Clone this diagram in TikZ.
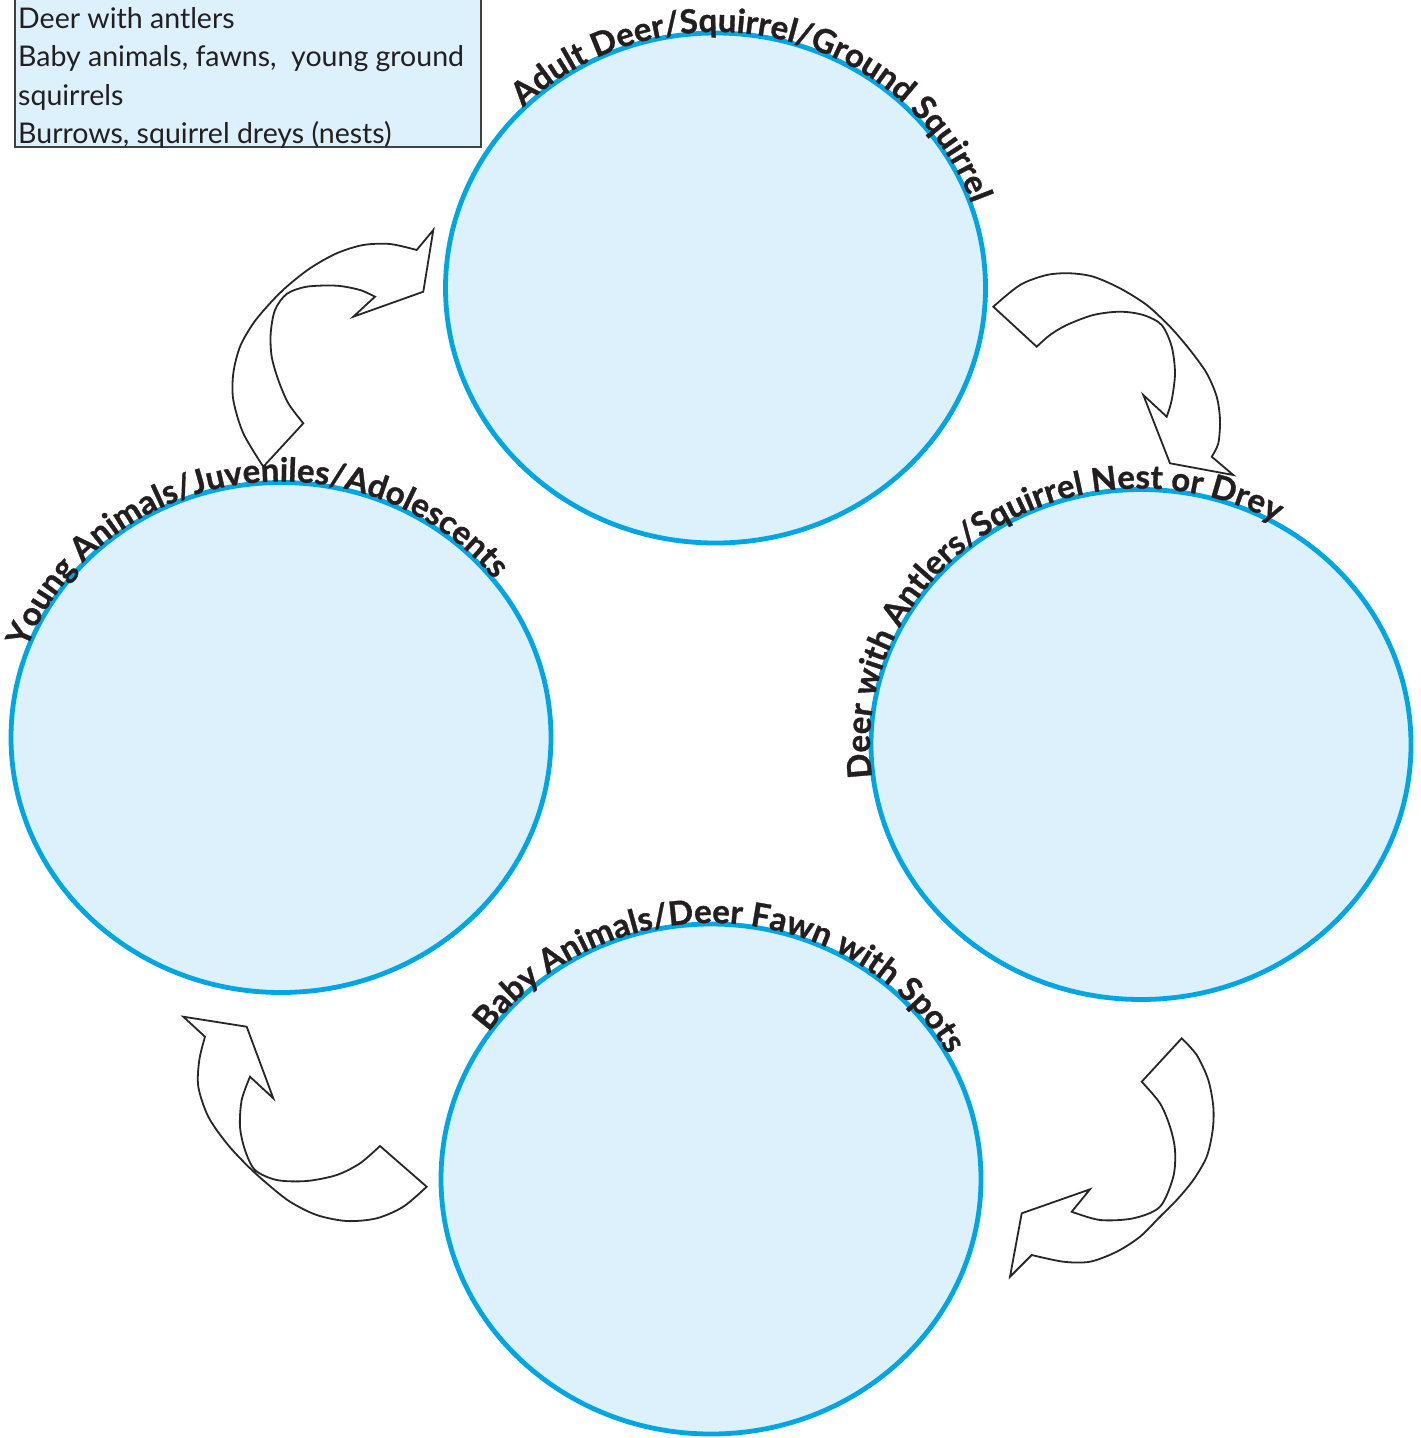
\documentclass[tikz,border=0pt]{standalone}
\usepackage{fontspec}
\setmainfont{Lato}
\newfontfamily\labelfam{Lato}[FakeBold=1]
\usetikzlibrary{shapes.geometric,decorations.text}
\definecolor{ring}{HTML}{00A6E2}
\definecolor{pale}{HTML}{DCF1FC}
\definecolor{ink}{HTML}{231F20}
\newcommand\labelfont{\labelfam\fontsize{33}{33}\selectfont\bfseries}
\begin{document}
\begin{tikzpicture}[x=1pt,y=-1pt,
  stage/.style={ellipse, draw=ring, line width=4.8pt, fill=pale, minimum width=540pt, minimum height=510pt, inner sep=0pt},
  cyclearrow/.style={draw=black!85, line width=1.8pt, line join=miter},
  arclabel/.style={decorate, decoration={text along path, text align=center, text color=ink, text={|\labelfont|#1}}},
  legendbox/.style={draw=black!75, line width=1.6pt, fill=pale, inner sep=0pt}
]
\useasboundingbox (0,0) rectangle (1421,1438);

% stages
\node[stage] (adult) at (715.5,288) {};
\node[stage] (antler) at (1141,744.5) {};
\node[stage] (baby) at (711,1179) {};
\node[stage] (young) at (281,737.5) {};

% legend
\node[legendbox, anchor=south west, minimum width=466pt, minimum height=160pt] (legend) at (14,148) {};
\node[anchor=north west, inner sep=0pt, align=left, font=\fontsize{28.5}{38.5}\selectfont, text=ink] (legendtext) at (18,7)
 {Deer with antlers\\Baby animals, fawns, \ young ground\\squirrels\\Burrows, squirrel dreys (nests)};

% curved arrows
\draw[cyclearrow] plot[smooth] coordinates {(263.3,466.7) (243.3,433.3) (233.3,400) (233.3,373.3) (240,346.7) (253.3,323.3) (270,303.3) (286.7,286.7) (310,268.3) (336.7,253.3) (363.3,245) (390,244) (416.7,250)}
  -- (433.3,230) -- (423.3,291.7) -- (353.3,316.7) --
  plot[smooth] coordinates {(375,296.7) (360,290) (336.7,285.7) (306.7,286.7) (286.7,294) (275,310) (270.7,333.3) (271.7,356.7) (278.3,380) (288.3,403.3) (303.3,423.3)} -- cycle;

\draw[cyclearrow] plot[smooth] coordinates {(993.3,306.7) (1020,285) (1046.7,275) (1070,273.3) (1093.3,276.7) (1120,288.3) (1146.7,305) (1170,326.7) (1190,350) (1206.7,373.3) (1216.7,396.7) (1220,420) (1218.3,443.3) (1211.7,456.7)}
  -- (1233.3,475) -- (1170,463.3) -- (1143.3,395) --
  plot[smooth] coordinates {(1166.7,416.7) (1171.7,400) (1175,373.3) (1171.7,346.7) (1161.7,325) (1143.3,315) (1120,311.7) (1093.3,315) (1066.7,325) (1050,335) (1036.7,346.7)} -- cycle;

\draw[cyclearrow] plot[smooth] coordinates {(1181.7,1038.3) (1196.7,1055) (1208.3,1080) (1213.3,1106.7) (1212.7,1130) (1206.7,1156.7) (1193.3,1180) (1176.7,1200) (1160,1216.7) (1140,1236.7) (1116.7,1251.7) (1090,1261.7) (1063.3,1261.7) (1031.7,1255)}
  -- (1010,1276.7) -- (1021.7,1213.3) -- (1090,1189.3) --
  plot[smooth] coordinates {(1071.7,1211.7) (1100,1220) (1133.3,1218.3) (1160,1206.7) (1173.3,1176.7) (1175,1150) (1170,1126.7) (1160,1103.3) (1141.7,1081.7)} -- cycle;

\draw[cyclearrow] plot[smooth] coordinates {(426.7,1186.7) (403.3,1206.7) (376.7,1218.3) (346.7,1221) (316.7,1215) (290,1201.7) (266.7,1183.3) (246.7,1165) (226.7,1143.3) (208.3,1116.7) (198.3,1086.7) (199.3,1060) (205,1036.7)}
  -- (183.3,1016.7) -- (246.7,1026.7) -- (273.3,1098.3) --
  plot[smooth] coordinates {(250,1076.7) (241.7,1100) (240,1126.7) (245,1150) (255,1170) (276.7,1180) (306.7,1181) (336.7,1175) (360,1163.3) (380,1146)} -- cycle;

% curved labels
\path[arclabel={Adult Deer/Squirrel/Ground Squirrel}] (adult.center) ++(-157:271 and 256) arc[start angle=-157, end angle=3, x radius=271, y radius=256];
\path[arclabel={Deer with Antlers/Squirrel Nest or Drey}] (antler.center) ++(-204:271 and 256) arc[start angle=-204, end angle=-44, x radius=271, y radius=256];
\path[arclabel={Baby Animals/Deer Fawn with Spots}] (baby.center) ++(-167:271 and 256) arc[start angle=-167, end angle=-7, x radius=271, y radius=256];
\path[arclabel={Young Animals/Juveniles/Adolescents}] (young.center) ++(-179:271 and 256) arc[start angle=-179, end angle=-19, x radius=271, y radius=256];
\end{tikzpicture}
\end{document}
